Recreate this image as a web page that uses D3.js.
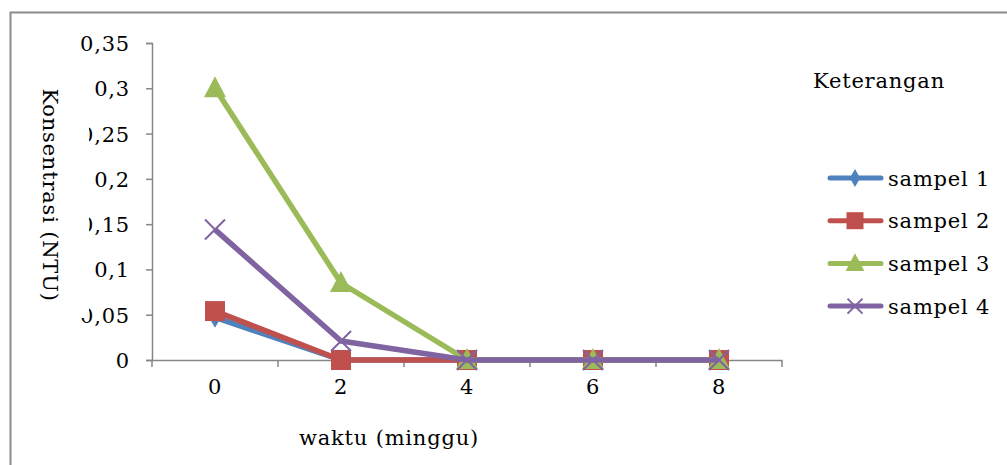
<!DOCTYPE html>
<html><head><meta charset="utf-8">
<script src="https://cdn.jsdelivr.net/npm/d3@7"></script>
<style>body{margin:0;background:#fff}text{font-family:"DejaVu Serif",serif;letter-spacing:0.8px;fill:#000}</style>
</head><body><svg id="c" width="1007" height="465"></svg>
<script>
const categories = ["0","2","4","6","8"];
const seriesNames = ["sampel 1","sampel 2","sampel 3","sampel 4"];
const sampel1 = [0.047, 0, 0, 0, 0];
const sampel2 = [0.054, 0, 0, 0, 0];
const sampel3 = [0.300, 0.085, 0, 0, 0];
const sampel4 = [0.144, 0.021, 0, 0, 0];
const yTicks = [0, 0.05, 0.1, 0.15, 0.2, 0.25, 0.3, 0.35];
const colors = ["#4F81BD","#C0504D","#9BBB59","#8064A2"];
const markers = ["diamond","square","triangle","x"];
const xTitle = "waktu (minggu)", yTitle = "Konsentrasi (NTU)", legendTitle = "Keterangan";

const FS = 21;
const svg = d3.select("#c");
svg.append("rect").attr("x",10.5).attr("y",12.5).attr("width",1100).attr("height",600)
  .attr("fill","#fff").attr("stroke","#8c8c8c").attr("stroke-width",2);

const x = d3.scaleBand().domain(categories).range([152,782]);
const y = d3.scaleLinear().domain([0,0.35]).range([360,43]);
const axisColor = "#868686";

// y axis
const ya = svg.append("g").attr("transform","translate(152,0)")
  .call(d3.axisLeft(y).tickValues(yTicks).tickSize(6).tickPadding(16).tickFormat(d => d3.format(".2~f")(d).replace(".",",")));
ya.select(".domain").attr("stroke",axisColor).attr("stroke-width",1.5);
ya.selectAll(".tick line").attr("stroke",axisColor).attr("stroke-width",1.5);
ya.selectAll(".tick text").attr("font-size",FS).attr("dy","0.36em").attr("font-family",null);

// x axis
const xa = svg.append("g").attr("transform","translate(0,360)")
  .call(d3.axisBottom(x).tickSize(0).tickPadding(19));
xa.select(".domain").attr("stroke",axisColor).attr("stroke-width",1.5);
xa.selectAll(".tick text").attr("font-size",FS).attr("font-family",null);
const bounds = categories.map(c => x(c)).concat([x.range()[1]]);
svg.append("g").selectAll("line").data(bounds).join("line")
  .attr("x1",d=>d).attr("x2",d=>d).attr("y1",360).attr("y2",367)
  .attr("stroke",axisColor).attr("stroke-width",1.5);

// y title with white box
svg.append("rect").attr("x",30).attr("y",80).attr("width",59).attr("height",238).attr("fill","#fff");
svg.append("text").attr("transform","translate(43,195) rotate(90)").attr("text-anchor","middle")
  .attr("font-size",FS).text(yTitle);
svg.append("text").attr("x",389).attr("y",445).attr("text-anchor","middle").attr("font-size",FS).text(xTitle);

function drawMarker(g, type, color, size){
  if(type==="diamond"){
    g.append("path").attr("d",d3.symbol(d3.symbolDiamond, size*size*0.55)()).attr("fill",color);
  } else if(type==="square"){
    g.append("rect").attr("x",-size/2).attr("y",-size/2).attr("width",size).attr("height",size).attr("fill",color);
  } else if(type==="triangle"){
    const h=size;
    g.append("path").attr("d",`M0,${-h*0.6}L${h*0.55},${h*0.45}L${-h*0.55},${h*0.45}Z`).attr("fill",color);
  } else {
    const s=size/2;
    g.append("path").attr("d",`M${-s},${-s}L${s},${s}M${-s},${s}L${s},${-s}`).attr("stroke",color).attr("stroke-width",2).attr("fill","none");
  }
}

const allSeries = [sampel1, sampel2, sampel3, sampel4];
const line = d3.line().x((d,i)=>x(categories[i])+x.bandwidth()/2).y(d=>y(d));
const msize = [15,20,20,20];
allSeries.forEach((vals,si)=>{
  const g = svg.append("g");
  g.append("path").datum(vals).attr("d",line).attr("fill","none")
    .attr("stroke",colors[si]).attr("stroke-width",5.5).attr("stroke-linejoin","round");
  vals.forEach((v,i)=>{
    const mg = g.append("g").attr("transform",`translate(${x(categories[i])+x.bandwidth()/2},${y(v)})`);
    drawMarker(mg, markers[si], colors[si], msize[si]);
  });
});

// legend
svg.append("text").attr("x",813).attr("y",88).attr("font-size",FS).text(legendTitle);
seriesNames.forEach((n,i)=>{
  const ly = 178 + i*42.7;
  const g = svg.append("g");
  g.append("line").attr("x1",830).attr("x2",881).attr("y1",ly).attr("y2",ly)
    .attr("stroke",colors[i]).attr("stroke-width",5).attr("stroke-linecap","round");
  const mg = g.append("g").attr("transform",`translate(855,${ly})`);
  drawMarker(mg, markers[i], colors[i], [13,17,17,15][i]);
  g.append("text").attr("x",888).attr("y",ly).attr("dy","0.36em").attr("font-size",FS).text(n);
});
</script></body></html>
